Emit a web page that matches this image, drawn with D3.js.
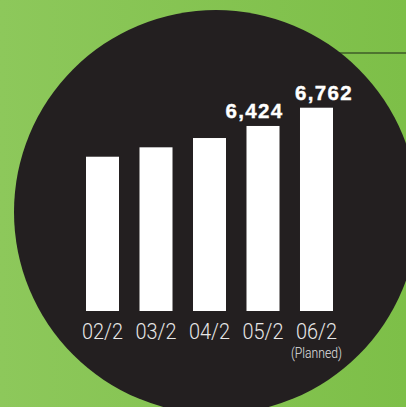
<!DOCTYPE html>
<html>
<head>
<meta charset="utf-8">
<script src="https://cdn.jsdelivr.net/npm/d3@7"></script>
<style>
  html, body { margin: 0; padding: 0; background: #86c553; }
  svg { display: block; }
</style>
</head>
<body>
<svg id="chart" width="406" height="407"></svg>
<script>
// Store count at fiscal year-end (February), last year planned
const periods = ["02/2", "03/2", "04/2", "05/2", "06/2"];
const storeCounts = [5855, 6029, 6201, 6424, 6762];
const labelledValues = ["", "", "", "6,424", "6,762"];
const subLabels = ["", "", "", "", "(Planned)"];

const W = 406, H = 407;
const svg = d3.select("#chart");

// green backdrop, slightly lighter on the left
const defs = svg.append("defs");
const grad = defs.append("linearGradient").attr("id", "bg")
  .attr("x1", 0).attr("y1", 0).attr("x2", 1).attr("y2", 0);
grad.append("stop").attr("offset", 0).attr("stop-color", "#8dc85b");
grad.append("stop").attr("offset", 1).attr("stop-color", "#7dbf48");
svg.append("rect").attr("width", W).attr("height", H).attr("fill", "url(#bg)");

// thin rule at the top right, behind the disc
svg.append("line")
  .attr("x1", 300).attr("x2", W).attr("y1", 53).attr("y2", 53)
  .attr("stroke", "#1f2a17").attr("stroke-width", 1.2);

// dark disc
svg.append("circle")
  .attr("cx", 216).attr("cy", 212).attr("r", 202)
  .attr("fill", "#231f20");

const x = d3.scaleBand()
  .domain(periods)
  .range([86, 333])
  .paddingInner(0.383)
  .paddingOuter(0);

const y = d3.scaleLinear()
  .domain([3000, 7000])
  .range([311, 311 - 4000 * 0.05404]);

const data = periods.map((p, i) => ({
  period: p, value: storeCounts[i], label: labelledValues[i], sub: subLabels[i]
}));

svg.append("g").selectAll("rect")
  .data(data).join("rect")
  .attr("x", d => x(d.period))
  .attr("width", x.bandwidth())
  .attr("y", d => y(d.value))
  .attr("height", d => y.range()[0] - y(d.value))
  .attr("fill", "#ffffff");

// value labels above the last two bars
const labelShift = { "05/2": -8.5, "06/2": 7.5 };
svg.append("g").selectAll("text")
  .data(data.filter(d => d.label)).join("text")
  .attr("x", d => x(d.period) + x.bandwidth() / 2 + (labelShift[d.period] || 0))
  .attr("y", d => y(d.value) - 8)
  .attr("text-anchor", "middle")
  .attr("font-family", "Liberation Sans, Arial, sans-serif")
  .attr("font-weight", "bold")
  .attr("font-size", 20.5)
  .attr("letter-spacing", 1.3)
  .attr("stroke", "#ffffff")
  .attr("stroke-width", 0.4)
  .attr("fill", "#ffffff")
  .text(d => d.label);

// category axis
const xAxis = svg.append("g")
  .attr("transform", "translate(0,311)")
  .call(d3.axisBottom(x).tickSize(0).tickPadding(0));
xAxis.select(".domain").remove();
xAxis.selectAll("text")
  .attr("y", 28)
  .attr("dy", 0)
  .attr("font-family", "Roboto, sans-serif")
  .attr("font-weight", 300)
  .attr("font-size", 21.5)
  .attr("textLength", 41)
  .attr("lengthAdjust", "spacingAndGlyphs")
  .attr("fill", "#e8e8e8");

svg.append("g").selectAll("text")
  .data(data.filter(d => d.sub)).join("text")
  .attr("x", d => x(d.period) + x.bandwidth() / 2)
  .attr("y", 358)
  .attr("text-anchor", "middle")
  .attr("font-family", "Roboto, sans-serif")
  .attr("font-weight", 300)
  .attr("font-size", 15)
  .attr("textLength", 51)
  .attr("lengthAdjust", "spacingAndGlyphs")
  .attr("fill", "#e0e0e0")
  .text(d => d.sub);
</script>
</body>
</html>
